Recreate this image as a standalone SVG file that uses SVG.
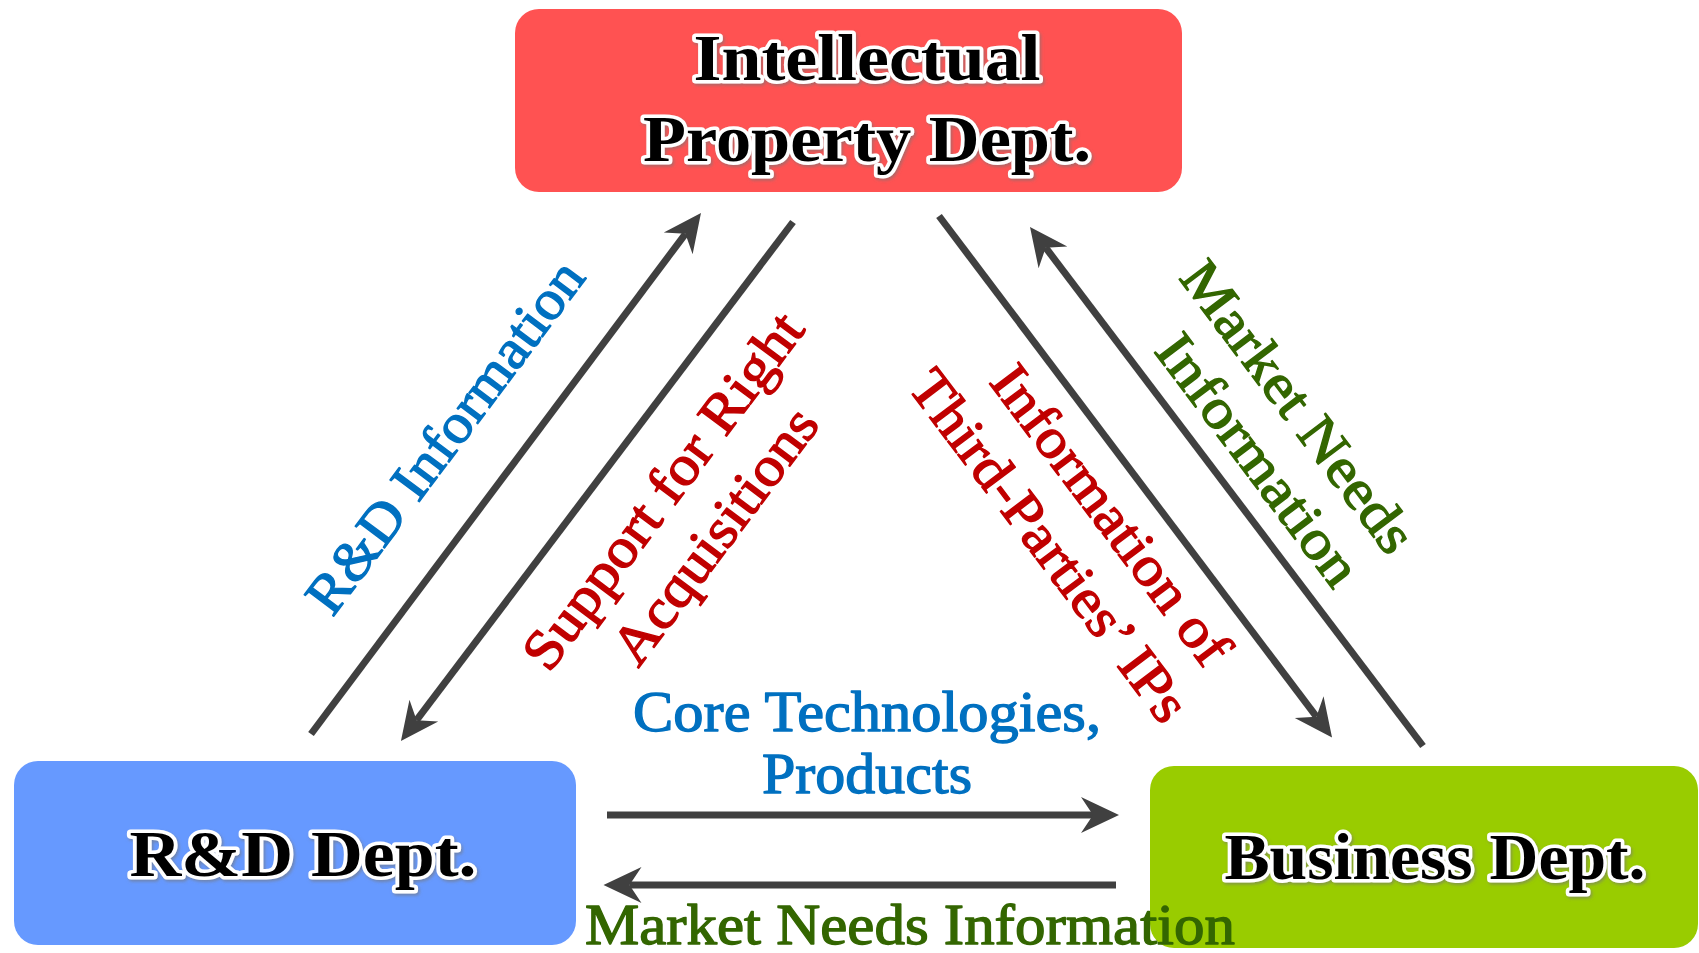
<svg xmlns="http://www.w3.org/2000/svg" width="1699" height="953" viewBox="0 0 1699 953">
<defs>
<style>
.box{stroke:none}
.node{font-family:"Liberation Serif","Times New Roman",serif;font-weight:bold;font-size:66px;fill:#000;stroke:#fff;stroke-width:7px;stroke-linejoin:round;paint-order:stroke;text-anchor:middle}
.lbl{font-family:"Liberation Serif","Times New Roman",serif;font-size:56px;text-anchor:middle;stroke-width:1.3px;stroke-linejoin:round}
.blue{fill:#0070C0;stroke:#0070C0}
.red{fill:#C00000;stroke:#C00000}
.green{fill:#336600;stroke:#336600}
.conn{stroke:#404040;stroke-width:7;fill:none;marker-end:url(#ah)}
</style>
<marker id="ah" markerUnits="userSpaceOnUse" markerWidth="40" markerHeight="40" viewBox="0 -20 40 40" refX="12" refY="0" orient="auto">
<path d="M0,-18 L38,0 L0,18 L12,0 Z" fill="#404040"/>
</marker>
<filter id="sh" x="-10%" y="-20%" width="120%" height="140%">
<feDropShadow dx="1.5" dy="2" stdDeviation="1.5" flood-color="#777" flood-opacity="0.6"/>
</filter>
</defs>
<rect width="1699" height="953" fill="#fff"/>

<g id="ip-dept">
<rect class="box" x="515" y="9" width="667" height="183" rx="24" fill="#FF5252"/>
<text class="node" x="867" y="80" textLength="347" lengthAdjust="spacingAndGlyphs" filter="url(#sh)">Intellectual</text>
<text class="node" x="867" y="161" textLength="448" lengthAdjust="spacingAndGlyphs" filter="url(#sh)">Property Dept.</text>
</g>

<g id="rd-dept">
<rect class="box" x="14" y="761" width="562" height="184" rx="24" fill="#6699FF"/>
<text class="node" x="303" y="876" textLength="347" lengthAdjust="spacingAndGlyphs" filter="url(#sh)">R&amp;D Dept.</text>
</g>

<g id="business-dept">
<rect class="box" x="1150" y="766" width="548" height="182" rx="24" fill="#99CC00"/>
<text class="node" x="1435" y="879" textLength="421" lengthAdjust="spacingAndGlyphs" filter="url(#sh)">Business Dept.</text>
</g>

<g id="connectors">
<path class="conn" d="M311,734 L685.4,233.8"/>
<path class="conn" d="M793,222 L416.6,720.2"/>
<path class="conn" d="M939,216 L1316.4,716.7"/>
<path class="conn" d="M1423,746 L1045.7,247.7"/>
<path class="conn" d="M607,815 L1093,815"/>
<path class="conn" d="M1116,885 L629.5,885"/>
</g>

<g id="labels">
<text class="lbl blue" transform="translate(444,436) rotate(-53.2)" dy="0.35em" textLength="425" lengthAdjust="spacingAndGlyphs">R&amp;D Information</text>
<text class="lbl red" transform="translate(662,490) rotate(-53.2)" dy="0.35em" textLength="430" lengthAdjust="spacingAndGlyphs">Support for Right</text>
<text class="lbl red" transform="translate(714,535) rotate(-53.2)" dy="0.35em" textLength="305" lengthAdjust="spacingAndGlyphs">Acquisitions</text>
<text class="lbl red" transform="translate(1112,514) rotate(53)" dy="0.35em" textLength="360" lengthAdjust="spacingAndGlyphs">Information of</text>
<text class="lbl red" transform="translate(1050,545) rotate(53)" dy="0.35em" textLength="425" lengthAdjust="spacingAndGlyphs">Third-Parties’ IPs</text>
<text class="lbl green" transform="translate(1299,406) rotate(53)" dy="0.35em" textLength="350" lengthAdjust="spacingAndGlyphs">Market Needs</text>
<text class="lbl green" transform="translate(1259,459) rotate(53)" dy="0.35em" textLength="300" lengthAdjust="spacingAndGlyphs">Information</text>
<text class="lbl blue" x="867" y="731" textLength="468" lengthAdjust="spacingAndGlyphs">Core Technologies,</text>
<text class="lbl blue" x="867" y="793" textLength="210" lengthAdjust="spacingAndGlyphs">Products</text>
<text class="lbl green" x="910" y="944" textLength="650" lengthAdjust="spacingAndGlyphs">Market Needs Information</text>
</g>
</svg>
